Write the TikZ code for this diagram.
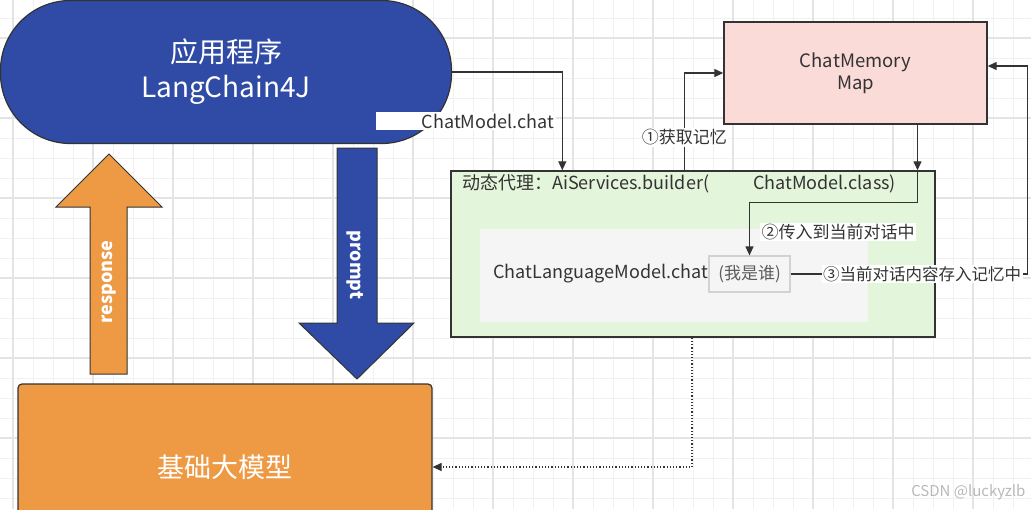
\documentclass[tikz,border=0pt]{standalone}
\usepackage{fontspec}
\setmainfont{Noto Sans CJK SC}
\usetikzlibrary{arrows.meta}

\definecolor{appblue}{HTML}{2F4BA5}
\definecolor{llmorange}{HTML}{EE9944}
\definecolor{mempink}{HTML}{FADBD8}
\definecolor{proxygreen}{HTML}{E3F5DA}
\definecolor{callgray}{HTML}{F5F5F5}
\definecolor{inkgray}{HTML}{333333}
\definecolor{gridminor}{HTML}{F1F1F1}
\definecolor{gridmajor}{HTML}{E4E4E4}

\begin{document}
\begin{tikzpicture}[x=1pt, y=-1pt, >={Triangle[length=9pt, width=8pt]},
		edgeline/.style={draw=inkgray, line width=1.3pt},
		tag/.style={fill=white, inner sep=1.5pt, text=inkgray, font=\fontsize{17}{19}\selectfont},
		codetext/.style={inner sep=0pt, text=inkgray, font=\fontsize{18}{20}\selectfont},
		bigtext/.style={text=white, font=\fontsize{28}{35}\selectfont, align=center},
		arrowtext/.style={text=white, font=\fontsize{18}{20}\selectfont\bfseries}]
			\useasboundingbox (0,0) rectangle (1031,509);
			\clip (0,0) rectangle (1031,509);

			% Raster
			\fill[white] (0,0) rectangle (1031,509);
			\foreach \gx in {13,33,...,1031}
				\draw[gridminor, line width=0.8pt] (\gx,0) -- (\gx,509);
			\foreach \gy in {18,38,...,509}
				\draw[gridminor, line width=0.8pt] (0,\gy) -- (1031,\gy);
			\foreach \gx in {13,93,...,1031}
				\draw[gridmajor, line width=1.2pt] (\gx,0) -- (\gx,509);
			\foreach \gy in {38,118,...,509}
				\draw[gridmajor, line width=1.2pt] (0,\gy) -- (1031,\gy);

			% Blockpfeile
			\draw[fill=llmorange, draw=inkgray, line width=1pt]
				(90,374) -- (90,207) -- (56,207) -- (109,154) -- (162,207) -- (127,207) -- (127,374) -- cycle;
			\draw[fill=appblue, draw=inkgray, line width=1pt]
				(337,148) -- (377,148) -- (377,323) -- (414,323) -- (357,379) -- (299,323) -- (337,323) -- cycle;
			\node[arrowtext, rotate=90] (resp) at (109,282) {response};
			\node[arrowtext, rotate=-90] (prompt) at (355,265) {prompt};

			% Knoten
			\node[draw=inkgray, line width=1.2pt, fill=appblue, rounded corners=70pt,
				minimum width=451pt, minimum height=143pt, bigtext] (app) at (226,72) {应用程序\\LangChain4J};
			\node[draw=inkgray, line width=1.2pt, fill=llmorange, rounded corners=4pt,
				minimum width=414pt, minimum height=166pt, bigtext, font=\fontsize{27}{32}\selectfont] (llm) at (225,467) {基础大模型};
			\node[draw=inkgray, line width=1.4pt, fill=mempink, minimum width=263pt, minimum height=102pt,
				text=inkgray, align=center, font=\fontsize{18.5}{22}\selectfont] (mem) at (855.5,73) {ChatMemory\\Map};
			\node[draw=inkgray, line width=1.4pt, fill=proxygreen, minimum width=484pt, minimum height=166pt] (proxy) at (693,254) {};
			\node[codetext, anchor=west] (proxylbl) at (462,184)
				{动态代理：AiServices.builder(\hspace{44pt}ChatModel.class)};
			\node[fill=callgray, minimum width=388pt, minimum height=93pt] (call) at (674,275.5) {};
			\node[codetext, anchor=east] (calltxt) at (708,274) {ChatLanguageModel.chat};
			\node[draw=gray!35, line width=1.2pt, minimum width=81pt, minimum height=36pt, inner sep=0pt,
				text=inkgray!80, font=\fontsize{17}{19}\selectfont] (who) at (749.5,274) {(我是谁)};

			% Verbindungen
			\draw[edgeline, ->] (app.east) -| ([xshift=112pt]proxy.north west)
				node[pos=0.75, left=6pt, tag, font=\fontsize{18}{20}\selectfont] {\hspace{44pt}ChatModel.chat};
			\draw[edgeline, ->] ([xshift=234pt]proxy.north west) |- (mem.west)
				node[pos=0.17, tag] {①获取记忆};
			\draw[edgeline, ->] ([xshift=62pt]mem.south) -- ([xshift=62pt]mem.south |- proxy.north);
			\draw[edgeline, ->] ([xshift=62pt]mem.south |- proxy.north) -- ++(0,32) -| (who.north)
				node[pos=0.78, right=10pt, tag] {②传入到当前对话中};
			\draw[edgeline, ->] (who.east) -- ++(237,0)
				node[pos=0.555, tag, font=\fontsize{16.5}{19}\selectfont] {③当前对话内容存入记忆中}
				|- ([yshift=7pt]mem.east);
			\draw[edgeline, line width=1.2pt, dotted, ->] ([xshift=-1pt]proxy.south) |- (llm.east);

			% Wasserzeichen
			\node[anchor=east, text=gray!55, font=\fontsize{15}{17}\selectfont] (mark) at (1029,492) {CSDN @luckyzlb};
		\end{tikzpicture}
\end{document}
